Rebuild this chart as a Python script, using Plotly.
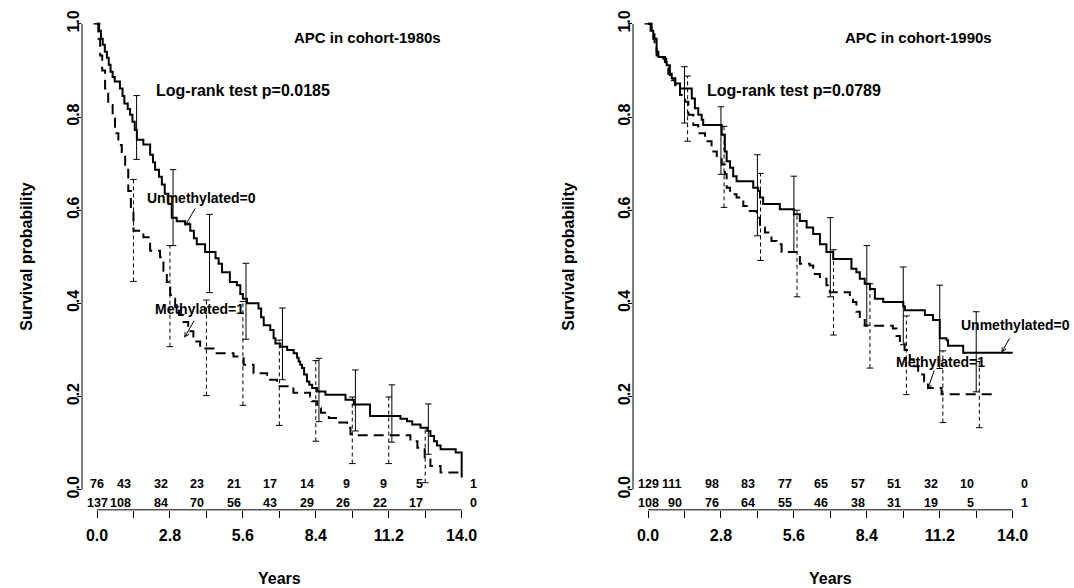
import plotly.graph_objects as go

FONT = "Liberation Sans, Arial, Helvetica, sans-serif"

# ---------------- Data: APC in cohort-1980s (left panel) ----------------
km80_unmeth_t = [0, 0.08, 0.15, 0.22, 0.30, 0.38, 0.45, 0.52, 0.60, 0.68,
                 0.88, 0.98, 1.05, 1.18, 1.27, 1.36, 1.45, 1.53, 1.78, 2.04,
                 2.15, 2.23, 2.38, 2.49, 2.60, 2.74, 2.87, 3.06, 3.38, 3.58,
                 3.72, 3.83, 4.15, 4.55, 4.67, 4.80, 5.10, 5.37, 5.50, 5.60,
                 5.76, 6.20, 6.30, 6.40, 6.65, 6.78, 6.85, 7.04, 7.30, 7.55,
                 7.68, 7.74, 7.80, 7.87, 7.95, 8.06, 8.15, 8.26, 8.45, 8.77,
                 9.54, 9.86, 10.48, 11.65, 11.90, 12.10, 12.42, 12.68, 12.80, 12.94,
                 13.05, 13.19, 13.77, 14.0]
km80_unmeth_s = [1.0, 0.985, 0.968, 0.955, 0.94, 0.927, 0.912, 0.897, 0.886, 0.876,
                 0.861, 0.845, 0.829, 0.817, 0.805, 0.79, 0.772, 0.751, 0.741, 0.719,
                 0.703, 0.687, 0.672, 0.655, 0.635, 0.613, 0.584, 0.576, 0.57, 0.556,
                 0.54, 0.527, 0.51, 0.497, 0.485, 0.467, 0.446, 0.439, 0.42, 0.41,
                 0.40, 0.389, 0.37, 0.353, 0.343, 0.325, 0.314, 0.307, 0.30, 0.293,
                 0.283, 0.275, 0.268, 0.261, 0.247, 0.232, 0.225, 0.218, 0.211, 0.204,
                 0.193, 0.183, 0.158, 0.152, 0.147, 0.14, 0.133, 0.126, 0.115, 0.104,
                 0.095, 0.087, 0.08, 0.026]
km80_meth_t = [0, 0.05, 0.12, 0.20, 0.31, 0.43, 0.60, 0.69, 0.82, 0.95,
               1.08, 1.20, 1.30, 1.40, 1.78, 2.04, 2.42, 2.55, 2.68, 2.81,
               3.00, 3.15, 3.32, 3.50, 3.70, 3.96, 4.47, 5.24, 5.63, 6.01,
               6.53, 6.91, 7.54, 8.18, 8.25, 8.45, 8.60, 8.90, 9.30, 9.60,
               9.73, 9.90, 12.03, 12.30, 12.58, 12.80, 13.19, 13.90]
km80_meth_s = [1.0, 0.968, 0.932, 0.90, 0.861, 0.826, 0.797, 0.765, 0.74, 0.719,
               0.687, 0.641, 0.60, 0.556, 0.542, 0.513, 0.499, 0.47, 0.446, 0.418,
               0.39, 0.375, 0.36, 0.34, 0.318, 0.303, 0.293, 0.286, 0.268, 0.25,
               0.236, 0.222, 0.208, 0.20, 0.19, 0.175, 0.165, 0.154, 0.144, 0.133,
               0.119, 0.117, 0.104, 0.09, 0.065, 0.051, 0.037, 0.037]

ci80_unmeth_x = [0, 1.52, 2.92, 4.32, 5.72, 7.12, 8.52, 9.92, 11.32, 12.72]
ci80_unmeth_lo = [1.0, 0.709, 0.524, 0.423, 0.323, 0.236, 0.146, 0.126, 0.102, 0.076]
ci80_unmeth_hi = [1.0, 0.846, 0.687, 0.591, 0.486, 0.39, 0.282, 0.257, 0.225, 0.184]
ci80_meth_x = [1.4, 2.8, 4.2, 5.6, 7.0, 8.4, 9.8, 11.2, 12.6]
ci80_meth_lo = [0.447, 0.307, 0.202, 0.181, 0.138, 0.104, 0.056, 0.056, 0.015]
ci80_meth_hi = [0.666, 0.524, 0.407, 0.404, 0.321, 0.277, 0.199, 0.199, 0.133]

risk80_row1 = [76, 43, 32, 23, 21, 17, 14, 9, 9, 5, 1]
risk80_row2 = [137, 108, 84, 70, 56, 43, 29, 26, 22, 17, 0]

# ---------------- Data: APC in cohort-1990s (right panel) ----------------
km90_unmeth_t = [0, 0.10, 0.20, 0.33, 0.40, 0.65, 0.72, 0.84, 0.91, 1.05,
                 1.23, 1.68, 1.80, 1.93, 2.06, 2.12, 2.83, 2.95, 3.02, 3.15,
                 3.27, 3.40, 4.04, 4.23, 4.30, 4.42, 5.06, 5.60, 5.83, 6.09,
                 6.34, 6.60, 6.85, 7.11, 7.81, 8.00, 8.13, 8.32, 8.52, 8.71,
                 9.03, 9.80, 9.86, 10.63, 10.94, 11.20, 11.46, 11.52, 12.10, 14.0]
km90_unmeth_s = [1.0, 0.985, 0.968, 0.94, 0.929, 0.918, 0.911, 0.89, 0.883, 0.872,
                 0.861, 0.84, 0.819, 0.805, 0.794, 0.783, 0.762, 0.726, 0.705, 0.691,
                 0.673, 0.662, 0.648, 0.641, 0.627, 0.613, 0.602, 0.591, 0.577, 0.563,
                 0.549, 0.527, 0.51, 0.495, 0.474, 0.467, 0.453, 0.442, 0.431, 0.41,
                 0.403, 0.394, 0.385, 0.375, 0.364, 0.325, 0.321, 0.309, 0.294, 0.294]
km90_meth_t = [0, 0.14, 0.25, 0.33, 0.59, 0.70, 0.78, 0.91, 1.04, 1.23,
               1.42, 1.55, 1.74, 1.93, 2.19, 2.44, 2.64, 2.83, 2.95, 3.02,
               3.15, 3.40, 3.66, 3.79, 4.17, 4.30, 4.49, 4.74, 4.94, 5.13,
               5.70, 5.83, 6.21, 6.34, 6.60, 6.85, 6.98, 7.75, 7.87, 8.00,
               8.13, 8.32, 9.40, 9.54, 9.67, 9.85, 10.05, 10.20, 10.37, 10.60,
               10.75, 11.27, 13.30]
km90_meth_s = [1.0, 0.982, 0.955, 0.932, 0.925, 0.905, 0.893, 0.879, 0.868, 0.847,
               0.833, 0.805, 0.783, 0.765, 0.748, 0.726, 0.712, 0.698, 0.677, 0.648,
               0.634, 0.627, 0.609, 0.598, 0.584, 0.563, 0.552, 0.534, 0.527, 0.51,
               0.506, 0.485, 0.481, 0.463, 0.453, 0.439, 0.424, 0.414, 0.403, 0.382,
               0.364, 0.352, 0.346, 0.33, 0.314, 0.30, 0.28, 0.265, 0.247, 0.232,
               0.218, 0.205, 0.205]

ci90_unmeth_x = [0, 1.4, 2.8, 4.2, 5.6, 7.0, 8.4, 9.8, 11.2, 12.6]
ci90_unmeth_lo = [1.0, 0.787, 0.677, 0.545, 0.51, 0.414, 0.353, 0.311, 0.26, 0.21]
ci90_unmeth_hi = [1.0, 0.908, 0.822, 0.719, 0.673, 0.584, 0.524, 0.478, 0.439, 0.382]
ci90_meth_x = [1.52, 2.92, 4.32, 5.72, 7.12, 8.52, 9.92, 11.32, 12.72]
ci90_meth_lo = [0.748, 0.606, 0.492, 0.414, 0.332, 0.261, 0.204, 0.144, 0.133]
ci90_meth_hi = [0.888, 0.78, 0.679, 0.60, 0.515, 0.442, 0.373, 0.298, 0.275]

risk90_row1 = [129, 111, 98, 83, 77, 65, 57, 51, 32, 10, 0]
risk90_row2 = [108, 90, 76, 64, 55, 46, 38, 31, 19, 5, 1]

tick_vals = [0.0, 1.4, 2.8, 4.2, 5.6, 7.0, 8.4, 9.8, 11.2, 12.6, 14.0]
tick_text = ["0.0", "", "2.8", "", "5.6", "", "8.4", "", "11.2", "", "14.0"]
ytick_vals = [0.0, 0.2, 0.4, 0.6, 0.8, 1.0]
ytick_text = ["0.0", "0.2", "0.4", "0.6", "0.8", "1.0"]

titles = ["APC in cohort-1980s", "APC in cohort-1990s"]
pvalues = ["Log-rank test p=0.0185", "Log-rank test p=0.0789"]

# ---------------- Layout geometry ----------------
W, H = 1074, 588


def pxx(ref):
    return ref / W


def pxy(ref):
    return 1 - ref / H


XR = [-0.576, 14.78]
YR = [-0.0433, 1.0213]
PX_PER_X = 400 / (XR[1] - XR[0])
CAPW = 3.3 / PX_PER_X
ydom = [pxy(509.3), pxy(10)]
xdoms = [[pxx(82), pxx(482)], [pxx(633), pxx(1033)]]

fig = go.Figure()


def km_trace(t, s, dash, xa, ya):
    return go.Scatter(x=t, y=s, mode="lines", line_shape="hv",
                      line=dict(color="black", width=2, dash=dash),
                      xaxis=xa, yaxis=ya, hoverinfo="skip", showlegend=False)


def ci_traces(xs, lo, hi, dash, xa, ya):
    vx, vy, cx, cy = [], [], [], []
    for x, l, h in zip(xs, lo, hi):
        vx += [x, x, None]
        vy += [l, h, None]
        cx += [x - CAPW, x + CAPW, None, x - CAPW, x + CAPW, None]
        cy += [l, l, None, h, h, None]
    return [
        go.Scatter(x=vx, y=vy, mode="lines", line=dict(color="black", width=1, dash=dash),
                   xaxis=xa, yaxis=ya, hoverinfo="skip", showlegend=False),
        go.Scatter(x=cx, y=cy, mode="lines", line=dict(color="black", width=1),
                   xaxis=xa, yaxis=ya, hoverinfo="skip", showlegend=False),
    ]


panels = [
    dict(xa="x", ya="y", ut=km80_unmeth_t, us=km80_unmeth_s, mt=km80_meth_t, ms=km80_meth_s,
         cux=ci80_unmeth_x, cul=ci80_unmeth_lo, cuh=ci80_unmeth_hi,
         cmx=ci80_meth_x, cml=ci80_meth_lo, cmh=ci80_meth_hi,
         r1=risk80_row1, r2=risk80_row2),
    dict(xa="x2", ya="y2", ut=km90_unmeth_t, us=km90_unmeth_s, mt=km90_meth_t, ms=km90_meth_s,
         cux=ci90_unmeth_x, cul=ci90_unmeth_lo, cuh=ci90_unmeth_hi,
         cmx=ci90_meth_x, cml=ci90_meth_lo, cmh=ci90_meth_hi,
         r1=risk90_row1, r2=risk90_row2),
]

annotations = []
shapes = []


def bold(s):
    return "<b>" + s + "</b>"


for i, p in enumerate(panels):
    xa, ya = p["xa"], p["ya"]
    for tr in ci_traces(p["cmx"], p["cml"], p["cmh"], "4px,3px", xa, ya):
        fig.add_trace(tr)
    for tr in ci_traces(p["cux"], p["cul"], p["cuh"], "solid", xa, ya):
        fig.add_trace(tr)
    fig.add_trace(km_trace(p["mt"], p["ms"], "10px,6px", xa, ya))
    fig.add_trace(km_trace(p["ut"], p["us"], "solid", xa, ya))

    xref, yref = xa, ya
    # axis lines (R style: spanning first to last tick)
    shapes.append(dict(type="line", xref=xref, x0=tick_vals[0], x1=tick_vals[-1],
                       yref=yref + " domain", y0=0, y1=0, line=dict(color="black", width=1)))
    shapes.append(dict(type="line", xref=xref + " domain", x0=0, x1=0,
                       yref=yref, y0=ytick_vals[0], y1=ytick_vals[-1],
                       line=dict(color="black", width=1)))

    # numbers at risk
    n = len(tick_vals)
    for k in range(n):
        if k == 0:
            xanchor, xshift = "center", 0
        elif k == n - 1:
            xanchor, xshift = "center", 12
        else:
            xanchor, xshift = "right", 0
        for row, yv in ((p["r1"], 0.0128), (p["r2"], -0.0277)):
            annotations.append(dict(x=tick_vals[k], y=yv, xref=xref, yref=yref,
                                    text=bold(str(row[k])), showarrow=False,
                                    xanchor=xanchor, yanchor="middle", xshift=xshift,
                                    font=dict(family=FONT, size=12.5, color="black")))

    # titles
    annotations.append(dict(x=7.48, y=0.97, xref=xref, yref=yref, text=bold(titles[i]),
                            showarrow=False, xanchor="left", yanchor="middle",
                            font=dict(family=FONT, size=15, color="black")))
    annotations.append(dict(x=2.17, y=0.857, xref=xref, yref=yref, text=bold(pvalues[i]),
                            showarrow=False, xanchor="left", yanchor="middle",
                            font=dict(family=FONT, size=16, color="black")))
    # axis titles
    annotations.append(dict(x=7.0, y=pxy(578), xref=xref, yref="paper", text=bold("Years"),
                            showarrow=False, xanchor="center", yanchor="middle",
                            font=dict(family=FONT, size=16, color="black")))
    annotations.append(dict(x=pxx([27, 569][i]), y=0.5, xref="paper", yref=yref,
                            text=bold("Survival probability"), textangle=-90,
                            showarrow=False, xanchor="center", yanchor="middle",
                            font=dict(family=FONT, size=16, color="black")))

# curve labels with arrows
labels = [
    ("x", "y", "Unmethylated=0", 4.03, 0.627, 3.80, 0.607, 3.38, 0.566),
    ("x", "y", "Methylated=1", 3.93, 0.387, 3.76, 0.366, 3.35, 0.326),
    ("x2", "y2", "Unmethylated=0", 14.12, 0.353, 13.91, 0.328, 13.57, 0.294),
    ("x2", "y2", "Methylated=1", 11.23, 0.275, 11.01, 0.259, 10.73, 0.215),
]
for xr, yr, txt, tx, ty, ax_, ay_, hx, hy in labels:
    annotations.append(dict(x=tx, y=ty, xref=xr, yref=yr, text=bold(txt), showarrow=False,
                            xanchor="center", yanchor="middle",
                            font=dict(family=FONT, size=14, color="black")))
    annotations.append(dict(x=hx, y=hy, xref=xr, yref=yr, ax=ax_, ay=ay_, axref=xr, ayref=yr,
                            text="", showarrow=True, arrowhead=5, arrowsize=0.9,
                            arrowwidth=1, arrowcolor="black", standoff=0, startstandoff=0))


def xaxis(dom, anchor):
    return dict(domain=dom, range=XR, anchor=anchor, showgrid=False, zeroline=False,
                showline=False, ticks="outside", ticklen=7, tickwidth=1, tickcolor="black",
                tickvals=tick_vals, ticktext=tick_text, ticklabelstandoff=4,
                ticklabeloverflow="allow",
                tickfont=dict(family=FONT, size=16, color="black", weight="bold"),
                fixedrange=True)


def yaxis(anchor):
    return dict(domain=ydom, range=YR, anchor=anchor, showgrid=False, zeroline=False,
                showline=False, ticks="outside", ticklen=4, tickwidth=1, tickcolor="black",
                tickvals=ytick_vals, ticktext=ytick_text, tickangle=-90,
                ticklabelstandoff=-8, ticklabeloverflow="allow",
                tickfont=dict(family=FONT, size=16, color="black", weight="bold"),
                fixedrange=True)


fig.update_layout(
    width=W, height=H,
    margin=dict(l=0, r=0, t=0, b=0),
    paper_bgcolor="white", plot_bgcolor="white",
    xaxis=xaxis(xdoms[0], "y"), yaxis=yaxis("x"),
    xaxis2=xaxis(xdoms[1], "y2"), yaxis2=yaxis("x2"),
    annotations=annotations, shapes=shapes,
    showlegend=False,
)

# remove the browser's default 8px body margin so the figure fills the window
fig.write_html("out.html",
               config={"displayModeBar": False, "staticPlot": True},
               post_script="document.body.style.margin='0';document.body.style.overflow='hidden';")
